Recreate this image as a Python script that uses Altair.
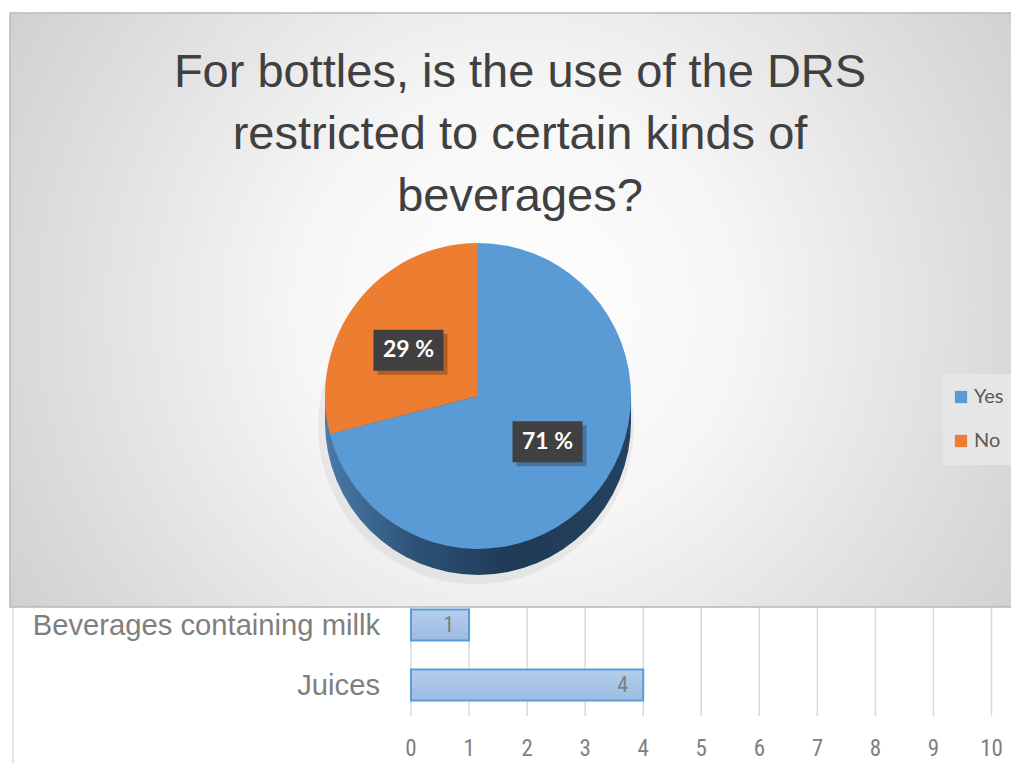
import altair as alt
import pandas as pd
import numpy as np

# ---------------- data ----------------
TITLE_LINES = ["For bottles, is the use of the DRS", "restricted to certain kinds of", "beverages?"]
pie_labels = ["Yes", "No"]
pie_values = [71, 29]
pie_colors = ["#5B9BD5", "#ED7D31"]

bar_categories = ["Beverages containing millk", "Juices"]
bar_values = [1, 4]
x_ticks = list(range(0, 11))

# ---------------- layout / style ----------------
W, H = 1003, 755
CX, CY, R, DEPTH = 470, 388, 153, 26
LABEL_R = 88
BOX_W, BOX_H = 70, 41
NARROW = "Liberation Sans Narrow, Roboto Condensed, Liberation Sans, Arial"

pie_df = pd.DataFrame({"answer": pie_labels, "value": pie_values, "order": [0, 1]})
bar_df = pd.DataFrame({"category": bar_categories, "value": bar_values})
tick_df = pd.DataFrame({"tick": x_ticks})
one = pd.DataFrame({"k": [0]})

x_scale = alt.Scale(domain=[0, 10], range=[403, 983.5], nice=False, zero=True)
y_scale = alt.Scale(domain=bar_categories, range=[587, 707], paddingInner=0.48, paddingOuter=0.24)


def grad(stops, **kw):
    return alt.Gradient(
        gradient="linear",
        stops=[alt.GradientStop(offset=o, color=c) for o, c in stops],
        **kw,
    )


# ---------------- bar chart (bottom) ----------------
grid = alt.Chart(tick_df).mark_rule(color="#d9d9d9", strokeWidth=1.5).encode(
    x=alt.X("tick:Q", scale=x_scale, axis=None),
    y=alt.value(560),
    y2=alt.value(708),
)

bar_fill = grad([(0, "#b5ceec"), (1, "#9bbbe3")], x1=0, x2=0, y1=0, y2=1)
bars = alt.Chart(bar_df).mark_bar(fill=bar_fill, stroke="#5b9bd5", strokeWidth=2).encode(
    x=alt.X("value:Q", scale=x_scale, axis=None),
    y=alt.Y("category:N", scale=y_scale, axis=None),
)

bar_text = alt.Chart(bar_df).mark_text(
    align="right", dx=-15, baseline="middle", fontSize=22, color="#7f7f7f", font=NARROW
).encode(
    x=alt.X("value:Q", scale=x_scale, axis=None),
    y=alt.Y("category:N", scale=y_scale, axis=None),
    text="value:Q",
)

tick_text = alt.Chart(tick_df).mark_text(
    baseline="middle", fontSize=23, color="#7f7f7f", font=NARROW
).encode(
    x=alt.X("tick:Q", scale=x_scale, axis=None),
    y=alt.value(741),
    text="tick:Q",
)

cat_text = alt.Chart(bar_df).mark_text(
    align="right", baseline="alphabetic", dy=10, fontSize=29.2, color="#7f7f7f",
    font="Liberation Sans, Arial",
).encode(
    x=alt.value(372),
    y=alt.Y("category:N", scale=y_scale, axis=None),
    text="category:N",
)

left_rule = alt.Chart(one).mark_rule(color="#d9d9d9", strokeWidth=1.5).encode(
    x=alt.value(5), y=alt.value(598), y2=alt.value(760)
)

# ---------------- pie panel ----------------
panel_fill = alt.Gradient(
    gradient="radial",
    x1=0.5, y1=0.5, r1=0, x2=0.5, y2=0.5, r2=0.72,
    stops=[
        alt.GradientStop(offset=0, color="#ffffff"),
        alt.GradientStop(offset=0.3, color="#f6f6f6"),
        alt.GradientStop(offset=0.7, color="#d8d8d8"),
        alt.GradientStop(offset=1, color="#c3c3c3"),
    ],
)
panel = alt.Chart(one).mark_rect(fill=panel_fill, stroke="#b8b8b8", strokeWidth=1.5).encode(
    x=alt.value(2), x2=alt.value(1015), y=alt.value(5), y2=alt.value(599)
)

title = alt.Chart(one).mark_text(
    font="Liberation Sans, Arial", fontSize=47, color="#404040", align="center",
    baseline="alphabetic", lineHeight=62,
).encode(x=alt.value(512), y=alt.value(79), text=alt.value(TITLE_LINES))

legend_bg = alt.Chart(one).mark_rect(fill="#e6e6e6").encode(
    x=alt.value(935), x2=alt.value(1015), y=alt.value(366), y2=alt.value(457)
)

pie_shadow = alt.Chart(one).mark_arc(
    theta=0, theta2=2 * np.pi, radius=R + 5, fill="#8a8a8a", opacity=0.12
).encode(x=alt.value(CX - 2), y=alt.value(CY + DEPTH + 4))

side_fill = grad(
    [(0, "#4a7bab"), (0.3, "#2c5177"), (0.6, "#1f3a56"), (1, "#24425f")],
    x1=0, x2=1, y1=0, y2=0,
)
side_rect = alt.Chart(one).mark_rect(fill=side_fill).encode(
    x=alt.value(CX - R), x2=alt.value(CX + R), y=alt.value(CY), y2=alt.value(CY + DEPTH)
)
side_circle = alt.Chart(one).mark_arc(
    theta=0, theta2=2 * np.pi, radius=R, fill=side_fill
).encode(x=alt.value(CX), y=alt.value(CY + DEPTH))

pie = alt.Chart(pie_df).mark_arc(radius=R).encode(
    theta=alt.Theta("value:Q", stack=True),
    order=alt.Order("order:Q"),
    color=alt.Color(
        "answer:N",
        scale=alt.Scale(domain=pie_labels, range=pie_colors),
        legend=alt.Legend(
            orient="none", legendX=943, legendY=379, title=None,
            symbolType="square", symbolSize=150, symbolStrokeWidth=0,
            labelFont="Lato, Open Sans", labelFontSize=20, labelColor="#595959",
            labelOffset=3, rowPadding=24, padding=0,
        ),
    ),
    x=alt.value(CX),
    y=alt.value(CY),
)

lab_base = (
    alt.Chart(pie_df)
    .transform_window(cum="sum(value)", sort=[alt.SortField("order")])
    .transform_joinaggregate(total="sum(value)")
    .transform_calculate(
        mid="(datum.cum - datum.value / 2) / datum.total * 2 * PI",
        px=f"{CX} + {LABEL_R} * sin(datum.mid)",
        py=f"{CY} - {LABEL_R} * cos(datum.mid) * 0.85",
        bx1=f"datum.px - {BOX_W / 2}",
        bx2=f"datum.px + {BOX_W / 2}",
        by1=f"datum.py - {BOX_H / 2}",
        by2=f"datum.py + {BOX_H / 2}",
        sx1="datum.bx1 + 4",
        sx2="datum.bx2 + 4",
        sy1="datum.by1 + 4",
        sy2="datum.by2 + 4",
        label="format(datum.value / datum.total * 100, '.0f') + ' %'",
    )
)

box_shadow = lab_base.mark_rect(fill="#000000", opacity=0.25).encode(
    x=alt.X("sx1:Q", scale=None, axis=None), x2="sx2:Q",
    y=alt.Y("sy1:Q", scale=None, axis=None), y2="sy2:Q",
)
box = lab_base.mark_rect(fill="#404040").encode(
    x=alt.X("bx1:Q", scale=None, axis=None), x2="bx2:Q",
    y=alt.Y("by1:Q", scale=None, axis=None), y2="by2:Q",
)
box_text = lab_base.mark_text(
    font="Lato, Open Sans", fontWeight="bold", fontSize=23, color="#ffffff",
    align="center", baseline="middle",
).encode(
    x=alt.X("px:Q", scale=None, axis=None),
    y=alt.Y("py:Q", scale=None, axis=None),
    text="label:N",
)

chart = (
    alt.layer(
        grid, bars, bar_text, tick_text, cat_text, left_rule,
        panel, title, legend_bg, pie_shadow, side_rect, side_circle, pie,
        box_shadow, box, box_text,
    )
    .resolve_scale(x="independent", y="independent")
    .properties(width=W, height=H, padding=0, autosize=alt.AutoSizeParams(type="none"),
                background="white")
    .configure_view(strokeWidth=0)
)

chart.save("out.html", embed_options={"renderer": "svg", "actions": False})
